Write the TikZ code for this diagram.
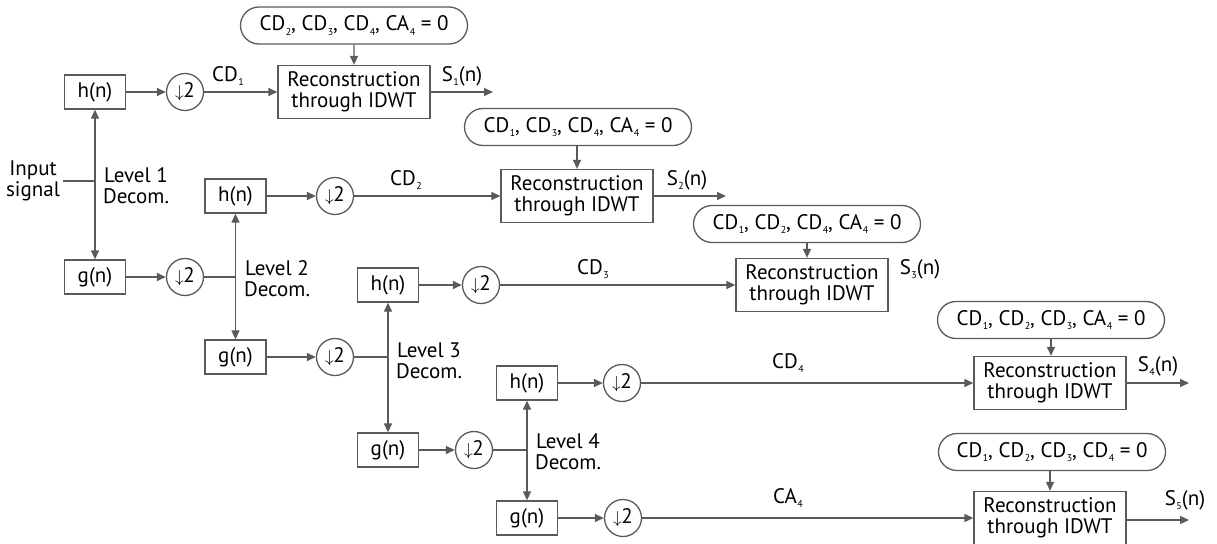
\documentclass[tikz,border=0pt]{standalone}
\usepackage{fontspec}
\setmainfont{PT Sans}
\usetikzlibrary{arrows.meta,shapes.misc}
\definecolor{lc}{HTML}{5A5A5A}
\newcommand\subx[1]{\kern0.5pt\raisebox{-4.5pt}{\fontsize{10}{10}\selectfont #1}}
\newcommand\dnx{{\fontsize{18}{18}\selectfont$\downarrow$}\kern-0.5pt 2}
\tikzset{
 every node/.style={font=\fontsize{21}{21}\selectfont},
 blk/.style={draw=lc, line width=1.3pt, minimum width=61pt, minimum height=34pt, inner sep=0pt},
 ds/.style={draw=lc, circle, line width=1.3pt, minimum size=37pt, inner sep=0pt},
 rec/.style={draw=lc, line width=1.3pt, minimum width=152pt, minimum height=53pt, inner sep=0pt, align=center},
 ov/.style={draw=lc, rounded rectangle, line width=1.3pt, minimum width=227pt, minimum height=37pt, inner sep=0pt},
 conn/.style={draw=lc, line width=1.3pt},
 arr/.style={conn, -{Triangle[length=9pt,width=8pt]}},
 darr/.style={conn, {Triangle[length=9pt,width=8pt]}-{Triangle[length=9pt,width=8pt]}},
 lbl/.style={align=center, inner sep=0pt}
}
\begin{document}
\begin{tikzpicture}[x=1pt,y=-1pt]
\useasboundingbox (0,0) rectangle (1217,543);
% level 1
\node[blk] (h1) at (95,92) {h(n)};
\node[ds] (d1) at (185,92) {\dnx};
\node[blk] (g1) at (95,277) {g(n)};
\node[ds] (e1) at (185,277) {\dnx};
\coordinate (j1) at (95,181);
\node[lbl, inner xsep=3pt] (in) at (33,181) {Input\\signal};
\draw[conn] (in.east) -- (j1);
\draw[darr] (h1) -- (g1);
\node[lbl] (l1) at (136,186) {Level 1\\Decom.};
\draw[arr] (h1) -- (d1);
\draw[arr] (g1) -- (e1);
\node[rec] (r1) at (354,92) {Reconstruction\\through IDWT};
\node[ov] (o1) at (354,25.5) {CD\subx2, CD\subx3, CD\subx4, CA\subx4 = 0};
\draw[arr] (o1) -- (r1);
\draw[arr] (d1) -- (r1);
\node[lbl] (c1) at (228,76) {CD\subx1};
\coordinate (s1) at (493,92);
\draw[arr] (r1) -- (s1);
\node[lbl] (t1) at (462,76) {S\subx1(n)};
% level 2
\node[blk] (h2) at (235.5,196) {h(n)};
\node[ds] (d2) at (335,196) {\dnx};
\node[blk] (g2) at (235.5,357) {g(n)};
\node[ds] (e2) at (335,357) {\dnx};
\coordinate (j2) at (235.5,277);
\draw[conn] (e1) -- (j2);
\draw[darr] (h2) -- (g2);
\node[lbl] (l2) at (277,279) {Level 2\\Decom.};
\draw[arr] (h2) -- (d2);
\draw[arr] (g2) -- (e2);
\node[rec] (r2) at (577,196) {Reconstruction\\through IDWT};
\node[ov] (o2) at (578,127) {CD\subx1, CD\subx3, CD\subx4, CA\subx4 = 0};
\draw[arr] (o2.south -| r2.north) -- (r2);
\draw[arr] (d2) -- (r2);
\node[lbl] (c2) at (406,180) {CD\subx2};
\coordinate (s2) at (726,196);
\draw[arr] (r2) -- (s2);
\node[lbl] (t2) at (687,180) {S\subx2(n)};
% level 3
\node[blk] (h3) at (388,285) {h(n)};
\node[ds] (d3) at (481,285) {\dnx};
\node[blk] (g3) at (388,450) {g(n)};
\node[ds] (e3) at (474,450) {\dnx};
\coordinate (j3) at (388,357);
\draw[conn] (e2) -- (j3);
\draw[darr] (h3) -- (g3);
\node[lbl] (l3) at (429,361) {Level 3\\Decom.};
\draw[arr] (h3) -- (d3);
\draw[arr] (g3) -- (e3);
\node[rec] (r3) at (812,285) {Reconstruction\\through IDWT};
\node[ov] (o3) at (807,224) {CD\subx1, CD\subx2, CD\subx4, CA\subx4 = 0};
\draw[arr] (o3.south) -- (o3.south |- r3.north);
\draw[arr] (d3) -- (r3);
\node[lbl] (c3) at (593,269) {CD\subx3};
\node[lbl] (t3) at (920,269) {S\subx3(n)};
% level 4
\node[blk] (h4) at (527,383) {h(n)};
\node[ds] (d4) at (622,383) {\dnx};
\node[blk] (g4) at (527,518) {g(n)};
\node[ds] (e4) at (623,518) {\dnx};
\coordinate (j4) at (527,450);
\draw[conn] (e3) -- (j4);
\draw[darr] (h4) -- (g4);
\node[lbl] (l4) at (568,452) {Level 4\\Decom.};
\draw[arr] (h4) -- (d4);
\draw[arr] (g4) -- (e4);
\node[rec] (r4) at (1050,383) {Reconstruction\\through IDWT};
\node[ov] (o4) at (1051,320) {CD\subx1, CD\subx2, CD\subx3, CA\subx4 = 0};
\draw[arr] (o4.south) -- (o4.south |- r4.north);
\draw[arr] (d4) -- (r4);
\node[lbl] (c4) at (788,363) {CD\subx4};
\coordinate (s4) at (1189,383);
\draw[arr] (r4) -- (s4);
\node[lbl] (t4) at (1158,366) {S\subx4(n)};
% level 5
\node[rec] (r5) at (1050,518) {Reconstruction\\through IDWT};
\node[ov] (o5) at (1052,452) {CD\subx1, CD\subx2, CD\subx3, CD\subx4 = 0};
\draw[arr] (o5.south -| r5.north) -- (r5);
\draw[arr] (e4) -- (r5);
\node[lbl] (c5) at (788,498) {CA\subx4};
\coordinate (s5) at (1189,520);
\draw[arr] (r5.east |- s5) -- (s5);
\node[lbl] (t5) at (1185,500) {S\subx5(n)};
\end{tikzpicture}
\end{document}
